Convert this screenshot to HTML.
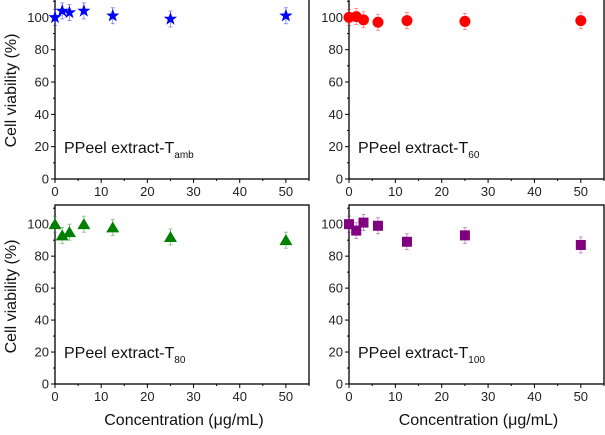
<!DOCTYPE html>
<html><head><meta charset="utf-8"><style>
body{margin:0;background:#fff}
svg{display:block;font-family:"Liberation Sans",sans-serif}
</style></head><body>
<svg id="c" width="605" height="435" viewBox="0 0 605 435"></svg>
<script>
const concentrations=[0,1.56,3.125,6.25,12.5,25,50];
const valsTamb=[100,104,103,104,101,99,101];
const errTamb=[5,5,5,5,5,5,5];
const valsT60=[100,100.5,98.5,97,98,97.5,98];
const errT60=[5,5,5,5,5,5,5];
const valsT80=[100,93,95,100,98,92,90];
const errT80=[5,5,5,5,5,5,5];
const valsT100=[100,96,101,99,89,93,87];
const errT100=[5,5,5,5,5,5,5];
const xTicks=[0,10,20,30,40,50];
const yTicks=[0,20,40,60,80,100];
const NS="http://www.w3.org/2000/svg";
const svg=document.getElementById('c');
function mk(t,a,p){const e=document.createElementNS(NS,t);for(const k in a)e.setAttribute(k,a[k]);(p||svg).appendChild(e);return e;}
const panels=[
 {name:'tamb',left:55,right:309,top:-2,bottom:179,vals:valsTamb,err:errTamb,color:'#0000ff',shape:'star',sub:'amb',ylabel:true,xlabel:false},
 {name:'t60',left:349,right:604,top:-2,bottom:179,vals:valsT60,err:errT60,color:'#ff0000',shape:'circle',sub:'60',ylabel:false,xlabel:false},
 {name:'t80',left:55,right:309,top:205,bottom:384,vals:valsT80,err:errT80,color:'#008000',shape:'tri',sub:'80',ylabel:true,xlabel:true},
 {name:'t100',left:349,right:604,top:205,bottom:384,vals:valsT100,err:errT100,color:'#800080',shape:'square',sub:'100',ylabel:false,xlabel:true}
];
panels.forEach(p=>{
 const g=mk('g',{});
 
 
 const xs=v=>p.left+v*(p.right-p.left)/55;
 const ys=v=>p.bottom-v*(p.bottom-p.top)/112;
 const box=mk('rect',{x:p.left,y:p.top,width:p.right-p.left,height:p.bottom-p.top,fill:'none',stroke:'#000','stroke-width':1.3},g);
 
 
 yTicks.forEach(t=>{
  mk('line',{x1:p.left-4,x2:p.left,y1:ys(t),y2:ys(t),stroke:'#000'},g);
  mk('line',{x1:p.left-2,x2:p.left,y1:ys(t+10),y2:ys(t+10),stroke:'#000'},g);
  const tx=mk('text',{x:p.left-6,y:ys(t)+4.5,'text-anchor':'end','font-size':13,fill:'#222'},g);
  tx.textContent=t;
  
  
 });
 xTicks.forEach(t=>{
  mk('line',{x1:xs(t),x2:xs(t),y1:p.bottom,y2:p.bottom+4,stroke:'#000'},g);
  mk('line',{x1:xs(t+5),x2:xs(t+5),y1:p.bottom,y2:p.bottom+2,stroke:'#000'},g);
  const tx=mk('text',{x:xs(t),y:p.bottom+17,'text-anchor':'middle','font-size':13,fill:'#222'},g);
  tx.textContent=t;
  
  
 });
 const lab=mk('text',{x:p.left+9,y:p.bottom-26,'font-size':16,fill:'#111'},g);
 lab.innerHTML='PPeel extract-T<tspan font-size="10" dy="5">'+p.sub+'</tspan>';
 
 
 concentrations.forEach((c,i)=>{
  const x=xs(c),y=ys(p.vals[i]),e=p.err[i]*1.6;
  mk('line',{x1:x,x2:x,y1:y-e,y2:y+e,stroke:p.color,'stroke-width':0.8,opacity:0.5},g);
  mk('line',{x1:x-2,x2:x+2,y1:y-e,y2:y-e,stroke:p.color,'stroke-width':0.8,opacity:0.5},g);
  mk('line',{x1:x-2,x2:x+2,y1:y+e,y2:y+e,stroke:p.color,'stroke-width':0.8,opacity:0.5},g);
  let m;
  if(p.shape==='circle')m=mk('circle',{cx:x,cy:y,r:5.5,fill:p.color},g);
  else if(p.shape==='square')m=mk('rect',{x:x-5,y:y-5,width:10,height:10,fill:p.color},g);
  else if(p.shape==='tri')m=mk('polygon',{points:`${x},${y-6} ${x+6.5},${y+5} ${x-6.5},${y+5}`,fill:p.color},g);
  else{let pts=[];for(let k=0;k<10;k++){const r=k%2?2.8:7,a=-Math.PI/2+k*Math.PI/5;pts.push((x+r*Math.cos(a)).toFixed(1)+','+(y+r*Math.sin(a)).toFixed(1));}m=mk('polygon',{points:pts.join(' '),fill:p.color},g);}
  
  
 });
 if(p.ylabel){
  const yl=mk('text',{x:0,y:0,transform:`translate(16,${(p.top+p.bottom)/2+2}) rotate(-90)`,'text-anchor':'middle','font-size':16,fill:'#111'},g);
  yl.textContent='Cell viability (%)';
  
  
 }
 if(p.xlabel){
  const xl=mk('text',{x:(p.left+p.right)/2+2,y:425,'text-anchor':'middle','font-size':16,fill:'#111'},g);
  xl.textContent='Concentration (\u03bcg/mL)';
  
  
 }
});
</script>
</body></html>
